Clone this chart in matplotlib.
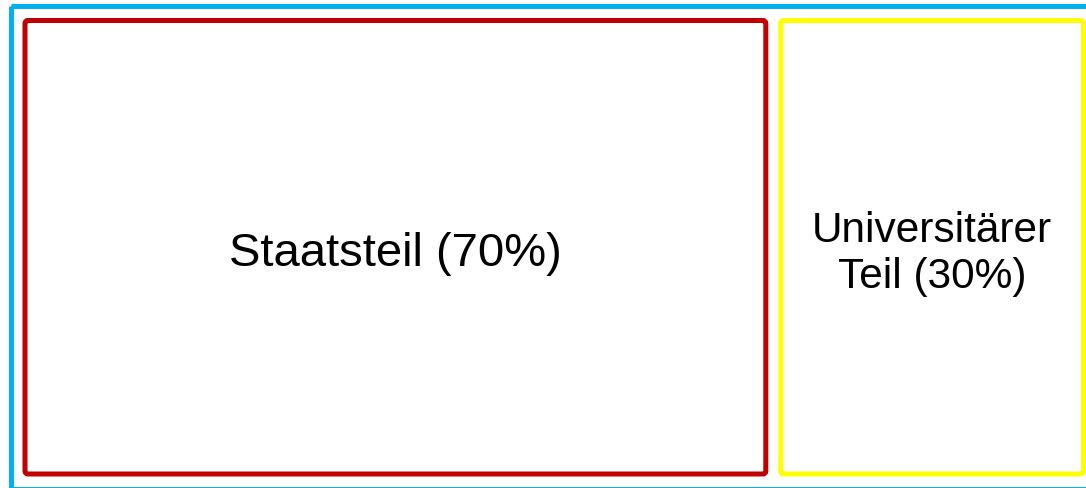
import matplotlib
matplotlib.use("Agg")
import matplotlib.pyplot as plt
from matplotlib.patches import FancyBboxPatch, Rectangle

# treemap-like split of the whole
labels = ["Staatsteil (70%)", "Universitärer\nTeil (30%)"]
shares = [70, 30]
edge_colors = ["#C00000", "#FFFF00"]
font_sizes = [34, 30.5]

W, H = 1086, 488
fig = plt.figure(figsize=(W / 100, H / 100), dpi=100)
ax = fig.add_axes([0, 0, 1, 1])
ax.set_xlim(0, W)
ax.set_ylim(H, 0)
ax.axis("off")

lw = 3.6  # ~5 px

# outer (blue) frame, runs off the right and bottom edge
outer_l, outer_r = 11, 1100
ax.add_patch(Rectangle((outer_l, 5.5), outer_r - outer_l, 483.5, fill=False,
                       edgecolor="#00B0F0", linewidth=lw, joinstyle="miter", clip_on=False))

# inner boxes: split the outer frame by the shares
pad_l = 14
top, bottom = 20.5, 474
gap = 15
total = outer_r - outer_l
cuts = [outer_l]
for s in shares:
    cuts.append(cuts[-1] + total * s / sum(shares))

for i, (lab, c, fs) in enumerate(zip(labels, edge_colors, font_sizes)):
    left = cuts[i] + (pad_l if i == 0 else gap / 2)
    right = min(cuts[i + 1] - gap / 2, W - 2.5)
    ax.add_patch(FancyBboxPatch((left, top), right - left, bottom - top,
                                boxstyle="round,pad=0,rounding_size=3",
                                fill=False, edgecolor=c, linewidth=lw))
    ax.text((left + right) / 2, (top + bottom) / 2 + 7, lab, ha="center", va="center",
            fontsize=fs, family="Liberation Sans", linespacing=1.2, color="black")

fig.savefig("out.png", dpi=100)
